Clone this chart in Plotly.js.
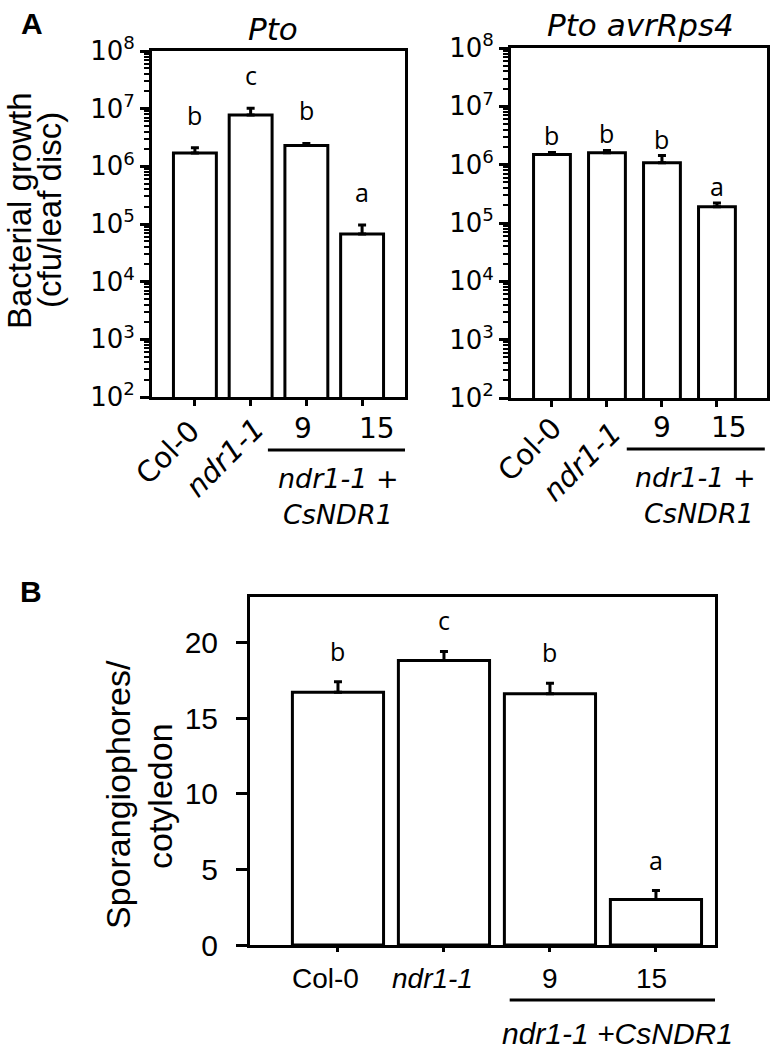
<!DOCTYPE html>
<html><head><meta charset="utf-8">
<script src="https://cdn.plot.ly/plotly-3.0.1.min.js"></script>
<style>html,body{margin:0;padding:0;background:#fff}</style>
</head><body><div id="chart" style="width:775px;height:1052px"></div>
<script>
// ---- data ----
const categories = ["Col-0", "ndr1-1", "9", "15"];
const categoryLabels = ["Col-0", "<i>ndr1-1</i>", "9", "15"];
const ptoGrowth = [1.7e6, 7.8e6, 2.3e6, 6.7e4];
const ptoError = [0.4e6, 2.4e6, 0.2e6, 2.9e4];
const ptoLetters = ["b", "c", "b", "a"];
const avrGrowth = [1.5e6, 1.6e6, 1.08e6, 1.9e5];
const avrError = [0.12e6, 0.15e6, 0.35e6, 0.3e5];
const avrLetters = ["b", "b", "b", "a"];
const sporangiophores = [16.7, 18.8, 16.6, 3.0];
const sporError = [0.7, 0.6, 0.7, 0.6];
const sporLetters = ["b", "c", "b", "a"];
const logTickVals = [1e2, 1e3, 1e4, 1e5, 1e6, 1e7, 1e8];
const logTickText = ["10<sup>2</sup>", "10<sup>3</sup>", "10<sup>4</sup>", "10<sup>5</sup>", "10<sup>6</sup>", "10<sup>7</sup>", "10<sup>8</sup>"];
const linTickVals = [0, 5, 10, 15, 20];
const transgenicLabel = "ndr1-1 +CsNDR1";
const titleA1 = "Pto";
const titleA2 = "Pto avrRps4";
const yTitleA = ["Bacterial growth", "(cfu/leaf disc)"];
const yTitleB = ["Sporangiophores/", "cotyledon"];

// ---- helpers ----
const W = 775, H = 1052;
const px = x => x / W;
const py = y => 1 - y / H;
const minorLog = [];
for (let e = 2; e < 8; e++) for (let m = 2; m <= 9; m++) minorLog.push(m * Math.pow(10, e));
const zeros = categories.map(() => 0);
const idx = categories.map((c, i) => i);

const ARIAL = "Liberation Sans";
const DEJA = "DejaVu Sans";
const LETTER = "Open Sans";

function barTrace(y, err, width, xa, ya) {
  return {
    type: "bar", x: idx, y: y, width: width, xaxis: xa, yaxis: ya,
    marker: {color: "white", line: {color: "black", width: 3}},
    error_y: {type: "data", symmetric: false, array: err, arrayminus: zeros, color: "black", thickness: 3, width: 4},
    hoverinfo: "skip"
  };
}

const data = [
  barTrace(ptoGrowth, ptoError, 0.77, "x", "y"),
  barTrace(avrGrowth, avrError, 0.67, "x2", "y2"),
  barTrace(sporangiophores, sporError, 0.86, "x3", "y3")
];

const baseX = {
  type: "linear", showline: true, linewidth: 3, linecolor: "black", mirror: true,
  ticks: "outside", tickwidth: 3, tickcolor: "black", showticklabels: false,
  showgrid: false, zeroline: false, tickmode: "array", tickvals: idx
};
const logY = {
  type: "log", range: [2, 8], tickmode: "array", tickvals: logTickVals, ticktext: logTickText,
  ticks: "outside", ticklen: 9, tickwidth: 3, tickcolor: "black",
  minor: {tickmode: "array", tickvals: minorLog, ticks: "outside", ticklen: 5, tickwidth: 2, tickcolor: "black", showgrid: false},
  showline: true, linewidth: 3, linecolor: "black", mirror: true, showgrid: false, zeroline: false,
  tickfont: {family: DEJA, size: 26, color: "black"}
};

const annotations = [];
function addText(obj) {
  annotations.push(Object.assign({showarrow: false, font: {family: ARIAL, size: 28, color: "black"}}, obj));
}

// panel letters
addText({text: "<b>A</b>", xref: "paper", yref: "paper", x: px(32), y: py(24), xanchor: "center", yanchor: "middle", font: {family: ARIAL, size: 30, color: "black"}});
addText({text: "<b>B</b>", xref: "paper", yref: "paper", x: px(31), y: py(591), xanchor: "center", yanchor: "middle", font: {family: ARIAL, size: 30, color: "black"}});

// titles
addText({text: "<i>" + titleA1 + "</i>", xref: "paper", yref: "paper", x: px(273), y: py(29), xanchor: "center", yanchor: "middle", font: {family: DEJA, size: 31, color: "black"}});
addText({text: "<i>" + titleA2 + "</i>", xref: "paper", yref: "paper", x: px(640), y: py(25), xanchor: "center", yanchor: "middle", font: {family: DEJA, size: 31, color: "black"}});

// y titles
addText({text: yTitleA[0], xref: "paper", yref: "paper", x: px(19), y: py(211), textangle: -90, xanchor: "center", yanchor: "middle", font: {family: ARIAL, size: 33, color: "black"}});
addText({text: yTitleA[1], xref: "paper", yref: "paper", x: px(50), y: py(210), textangle: -90, xanchor: "center", yanchor: "middle", font: {family: ARIAL, size: 33, color: "black"}});
addText({text: yTitleB[0], xref: "paper", yref: "paper", x: px(118), y: py(795), textangle: -90, xanchor: "center", yanchor: "middle", font: {family: ARIAL, size: 34, color: "black"}});
addText({text: yTitleB[1], xref: "paper", yref: "paper", x: px(160), y: py(796), textangle: -90, xanchor: "center", yanchor: "middle", font: {family: ARIAL, size: 34, color: "black"}});

// x category labels, panel A
const aLeftShift = [[-27, 452, -45], [-26, 458, -45], [-3, 428, 0], [15, 428, 0]];
const aRightShift = [[-22, 449, -45], [-25, 462, -45], [0, 427, 0], [12, 427, 0]];
idx.forEach(i => {
  const L = aLeftShift[i], R = aRightShift[i];
  addText({text: categoryLabels[i], xref: "x", yref: "paper", x: i, xshift: L[0], y: py(L[1]), textangle: L[2], xanchor: "center", yanchor: "middle", font: {family: DEJA, size: L[2] ? 29 : 28, color: "black"}});
  addText({text: categoryLabels[i], xref: "x2", yref: "paper", x: i, xshift: R[0], y: py(R[1]), textangle: R[2], xanchor: "center", yanchor: "middle", font: {family: DEJA, size: R[2] ? 29 : 28, color: "black"}});
});
// x category labels, panel B
const bShift = [-12, -11, 0, -4];
idx.forEach(i => {
  addText({text: categoryLabels[i], xref: "x3", yref: "paper", x: i, xshift: bShift[i], y: py(978), xanchor: "center", yanchor: "middle", font: {family: ARIAL, size: 28, color: "black"}});
});

// transgenic group labels
const tgA = transgenicLabel.split(" ");
addText({text: "<i>" + tgA[0] + " +</i>", xref: "paper", yref: "paper", x: px(338), y: py(478), xanchor: "center", yanchor: "middle", font: {family: DEJA, size: 27, color: "black"}});
addText({text: "<i>" + tgA[1].replace("+", "") + "</i>", xref: "paper", yref: "paper", x: px(338), y: py(514), xanchor: "center", yanchor: "middle", font: {family: DEJA, size: 27, color: "black"}});
addText({text: "<i>" + tgA[0] + " +</i>", xref: "paper", yref: "paper", x: px(695), y: py(477), xanchor: "center", yanchor: "middle", font: {family: DEJA, size: 27, color: "black"}});
addText({text: "<i>" + tgA[1].replace("+", "") + "</i>", xref: "paper", yref: "paper", x: px(699), y: py(513), xanchor: "center", yanchor: "middle", font: {family: DEJA, size: 27, color: "black"}});
addText({text: "<i>" + transgenicLabel + "</i>", xref: "paper", yref: "paper", x: px(617), y: py(1033), xanchor: "center", yanchor: "middle", font: {family: ARIAL, size: 30, color: "black"}});

// significance letters
idx.forEach(i => {
  addText({text: ptoLetters[i], xref: "x", yref: "y", x: i, y: Math.log10(ptoGrowth[i] + ptoError[i]), yanchor: "bottom", yshift: 14, font: {family: LETTER, size: 25, color: "black"}});
  addText({text: avrLetters[i], xref: "x2", yref: "y2", x: i, y: Math.log10(avrGrowth[i] + avrError[i]), yanchor: "bottom", yshift: -2, font: {family: LETTER, size: 25, color: "black"}});
  addText({text: sporLetters[i], xref: "x3", yref: "y3", x: i, y: sporangiophores[i] + sporError[i], yanchor: "bottom", yshift: 12, font: {family: LETTER, size: 25, color: "black"}});
});

const shapes = [
  {type: "line", xref: "x", yref: "paper", x0: 1.31, x1: 3.78, y0: py(450), y1: py(450), line: {color: "black", width: 3}},
  {type: "line", xref: "x2", yref: "paper", x0: 1.36, x1: 3.87, y0: py(449), y1: py(449), line: {color: "black", width: 3}},
  {type: "line", xref: "x3", yref: "paper", x0: 1.62, x1: 3.67, y0: py(1000), y1: py(1000), line: {color: "black", width: 3}}
];

const layout = {
  width: W, height: H, margin: {l: 0, r: 0, t: 0, b: 0}, showlegend: false,
  paper_bgcolor: "white", plot_bgcolor: "white",
  xaxis: Object.assign({}, baseX, {domain: [px(152), px(405)], range: [-0.77, 3.77], ticklen: 6, anchor: "y"}),
  yaxis: Object.assign({}, logY, {domain: [py(397), py(51)], anchor: "x"}),
  xaxis2: Object.assign({}, baseX, {domain: [px(511), px(767)], range: [-0.745, 3.91], ticklen: 6, anchor: "y2"}),
  yaxis2: Object.assign({}, logY, {domain: [py(398), py(48)], anchor: "x2"}),
  xaxis3: Object.assign({}, baseX, {domain: [px(250), px(715)], range: [-0.83, 3.557], ticklen: 4, anchor: "y3"}),
  yaxis3: {domain: [py(945), py(597)], range: [0, 23], anchor: "x3", tickmode: "array", tickvals: linTickVals,
    ticks: "outside", ticklen: 11, tickwidth: 3, tickcolor: "black", showline: true, linewidth: 3, linecolor: "black",
    mirror: true, showgrid: false, zeroline: false, ticklabelstandoff: 12, tickfont: {family: ARIAL, size: 30, color: "black"}},
  annotations: annotations,
  shapes: shapes
};

Plotly.newPlot("chart", data, layout, {staticPlot: true, displayModeBar: false});
</script>
</body></html>
